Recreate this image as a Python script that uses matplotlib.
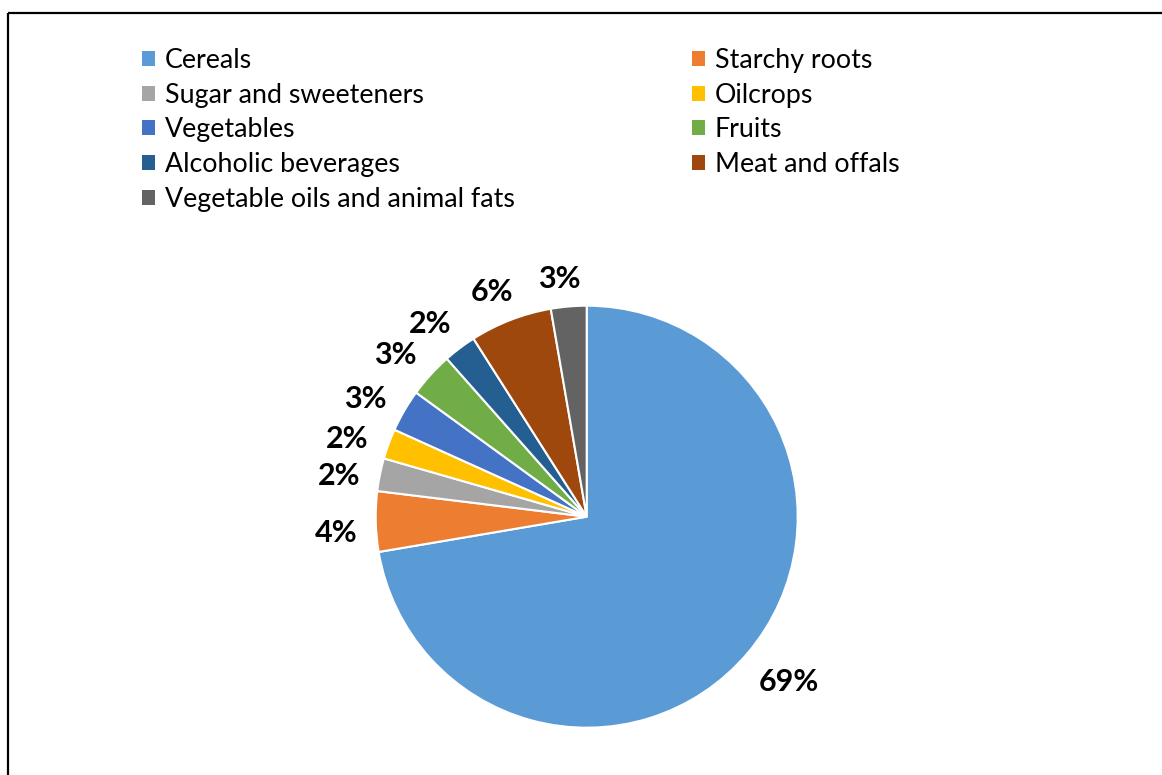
import matplotlib
matplotlib.use("Agg")
import matplotlib.pyplot as plt
from matplotlib.patches import Patch
import numpy as np

# Food supply shares by commodity group
categories = [
    "Cereals", "Starchy roots", "Sugar and sweeteners", "Oilcrops",
    "Vegetables", "Fruits", "Alcoholic beverages", "Meat and offals",
    "Vegetable oils and animal fats",
]
shares = [69.0, 4.4, 2.4, 2.2, 3.1, 3.3, 2.4, 6.0, 2.6]
colors = [
    "#5B9BD5", "#ED7D31", "#A5A5A5", "#FFC000", "#4472C4",
    "#70AD47", "#255E91", "#9E480E", "#636363",
]

W, H = 1162, 775
fig = plt.figure(figsize=(W / 100, H / 100), dpi=100)
ax = fig.add_axes([0, 0, 1, 1])

# Work in pixel-like data units (y up)
cx, cy, R = 586.7, H - 516.7, 211.0
wedges, _ = ax.pie(
    shares, colors=colors, startangle=90, counterclock=False,
    center=(cx, cy), radius=R,
    wedgeprops=dict(edgecolor="white", linewidth=1.5),
)
ax.set_xlim(0, W)
ax.set_ylim(0, H)
ax.set_aspect("equal")
ax.axis("off")

# Outer frame (left and top edges)
ax.plot([7.5, 7.5], [0, H - 12.5], color="black", lw=1.6, solid_capstyle="butt")
ax.plot([7.5, W], [H - 12.5, H - 12.5], color="black", lw=1.6, solid_capstyle="butt")

# Percentage labels placed just outside each wedge
label_font = dict(family=["Lato", "DejaVu Sans"], weight="bold", size=22)
fs_px = label_font["size"] * 100 / 72
half_h = 0.36 * fs_px
pad = 18.0
fig.canvas.draw()
renderer = fig.canvas.get_renderer()
for w, v in zip(wedges, shares):
    ang = np.deg2rad((w.theta1 + w.theta2) / 2 + 1.5)
    dx, dy = np.cos(ang), np.sin(ang)
    t = ax.text(0, 0, f"{v:.0f}%", ha="center", va="baseline", color="black", **label_font)
    bb = t.get_window_extent(renderer=renderer)
    half_w = bb.width / 2
    d = R + pad + half_w * abs(dx) + half_h * abs(dy)
    t.set_position((cx + d * dx, cy + d * dy - half_h - 1.5))

# Legend laid out in two columns, filled row by row
handles = [Patch(facecolor=c, edgecolor="none") for c in colors]
order = [0, 2, 4, 6, 8, 1, 3, 5, 7]
leg_fs = 19.3
leg_px = leg_fs * 100 / 72
leg = ax.legend(
    [handles[i] for i in order], [categories[i] for i in order],
    ncol=2, loc="upper left", bbox_to_anchor=(142, H - 48),
    bbox_transform=ax.transData, frameon=False, borderpad=0,
    borderaxespad=0, handlelength=13 / leg_px, handleheight=13 / leg_px,
    handletextpad=10 / leg_px, columnspacing=177 / leg_px,
    labelspacing=0.36, prop=dict(family=["Lato", "DejaVu Sans"], size=leg_fs),
)

fig.savefig("out.png", dpi=100, facecolor="white")
